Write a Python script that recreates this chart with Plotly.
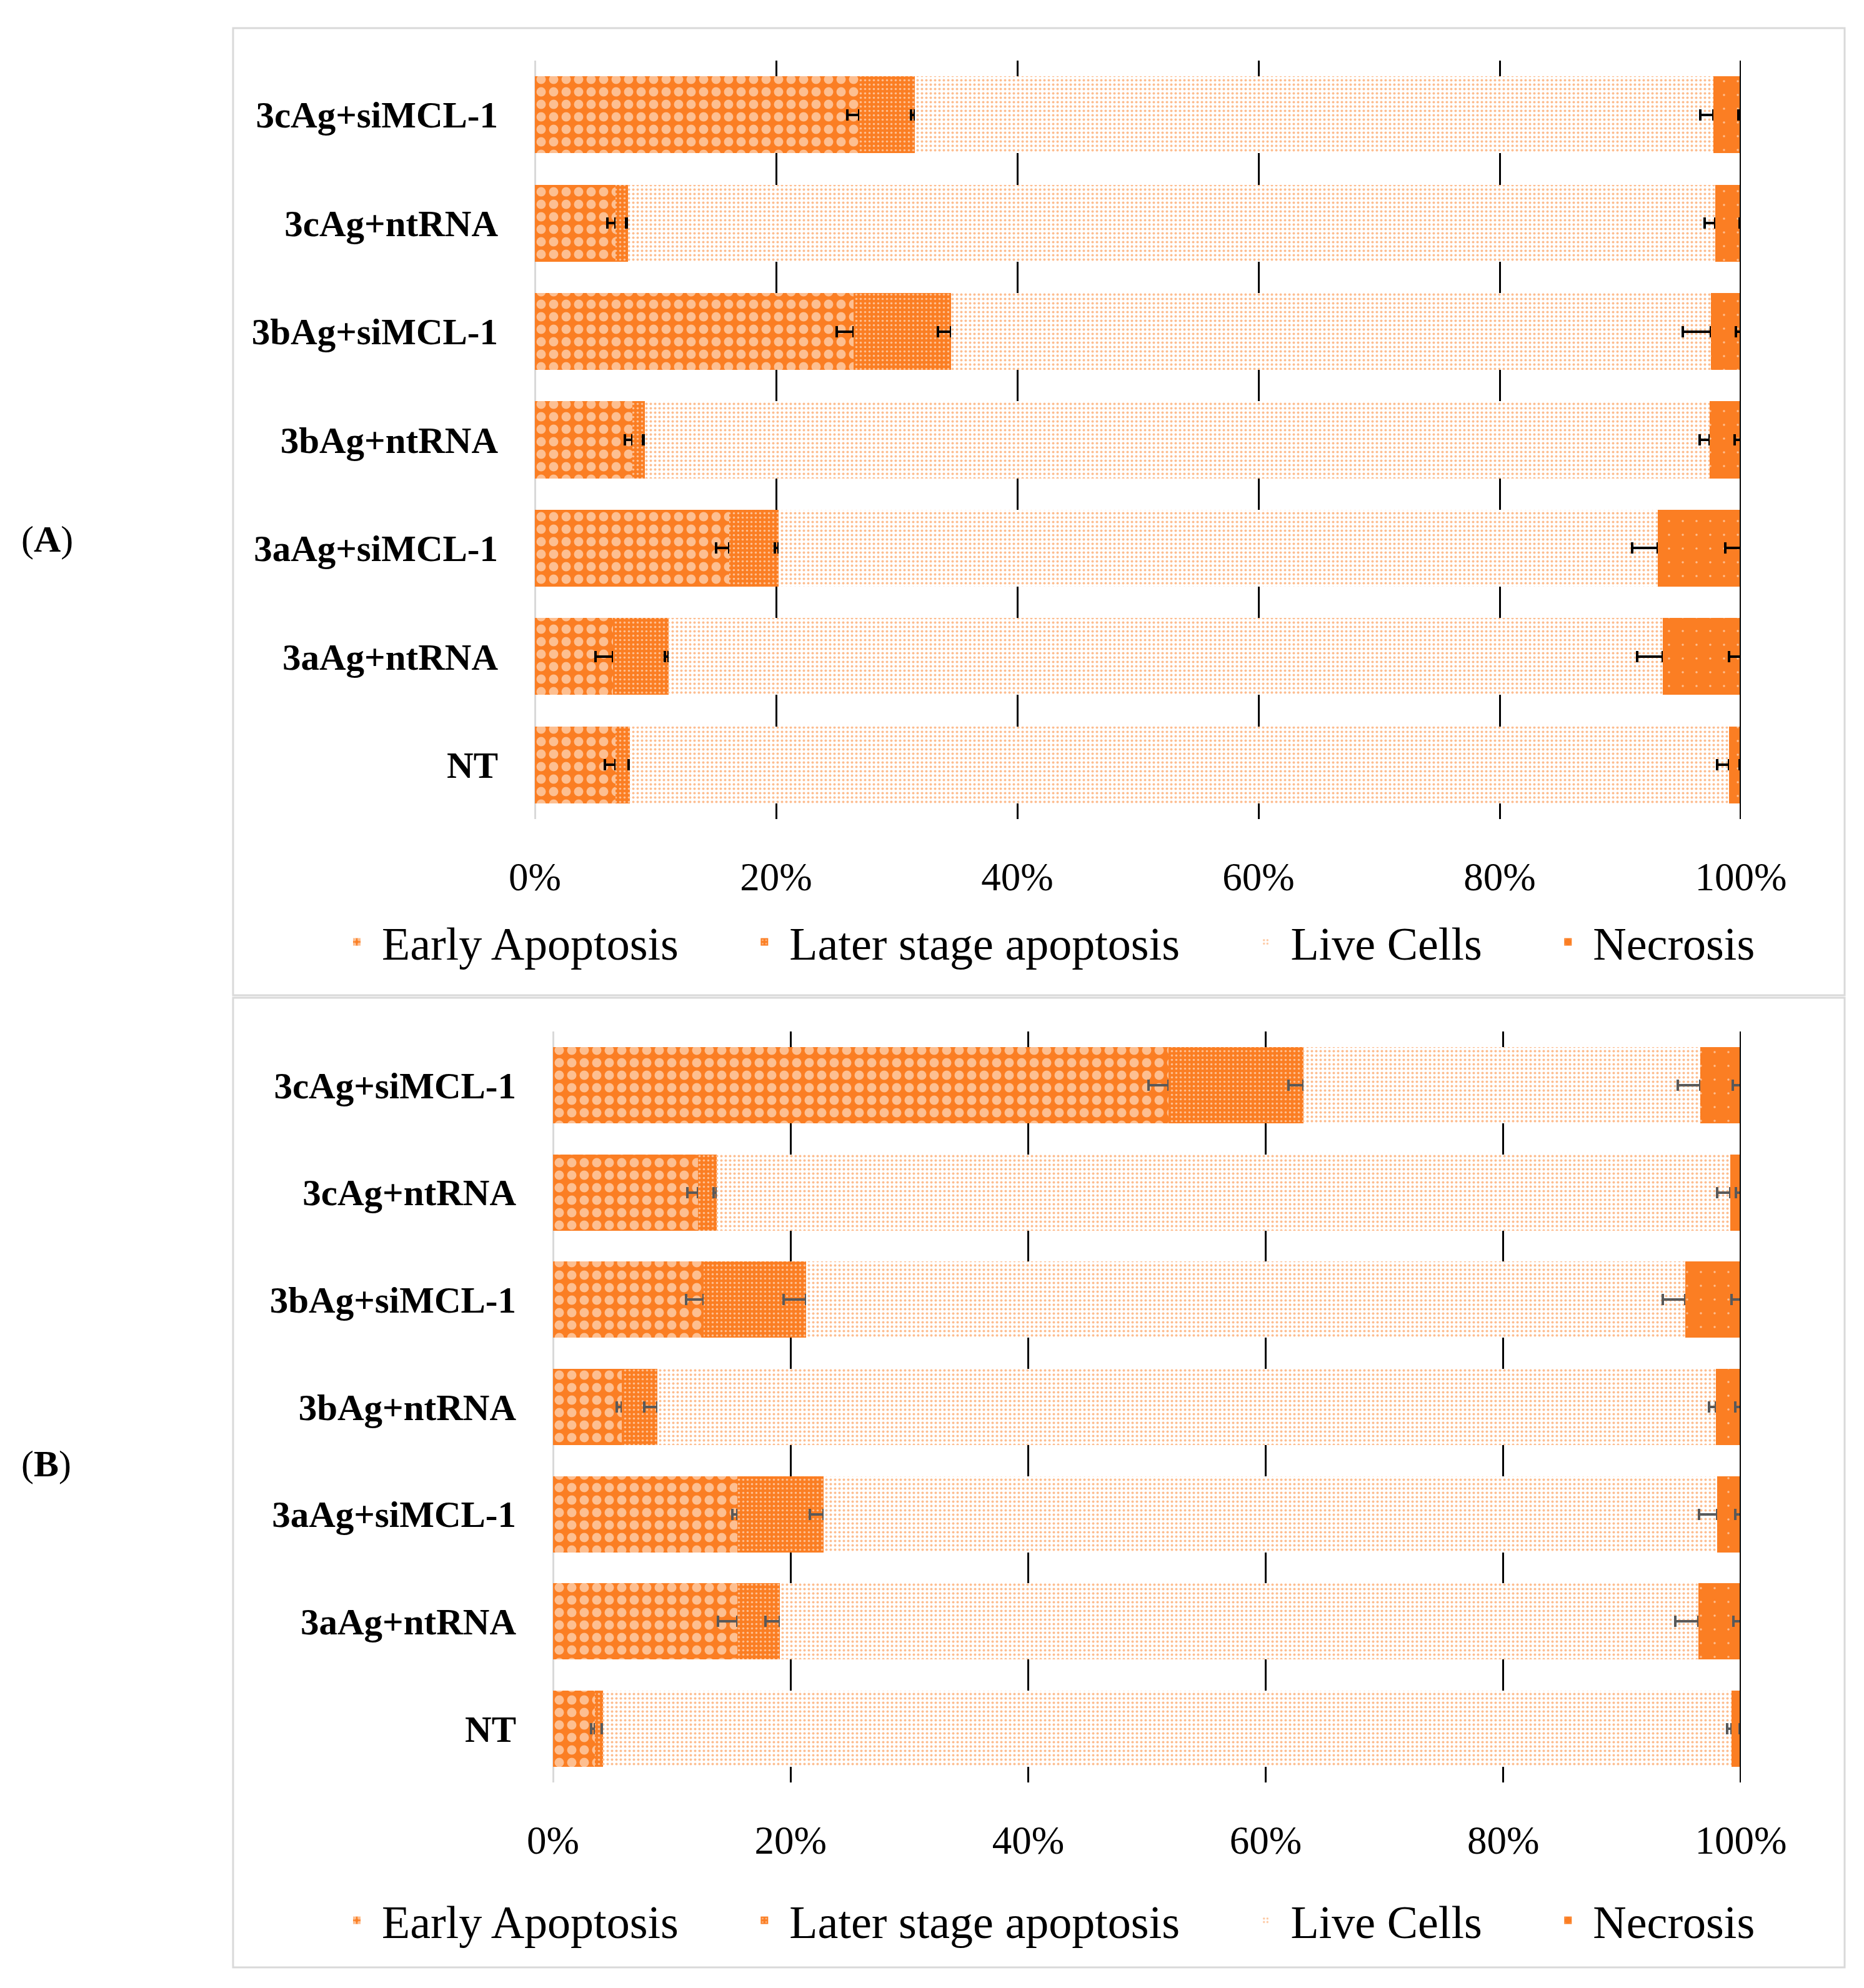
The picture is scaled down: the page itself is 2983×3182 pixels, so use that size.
import plotly.graph_objects as go

# ---------------- data ----------------
categories = ["NT", "3aAg+ntRNA", "3aAg+siMCL-1", "3bAg+ntRNA",
              "3bAg+siMCL-1", "3cAg+ntRNA", "3cAg+siMCL-1"]
series_names = ["Early Apoptosis", "Later stage apoptosis", "Live Cells", "Necrosis"]

# Panel A (percent)
early_a = [6.7, 6.5, 16.1, 8.1, 26.4, 6.7, 26.9]
late_a = [1.2, 4.6, 4.1, 1.0, 8.1, 1.0, 4.6]
live_a = [91.1, 82.4, 72.9, 88.3, 63.0, 90.2, 66.2]
necrosis_a = [1.0, 6.5, 6.9, 2.6, 2.5, 2.1, 2.3]
early_err_a = [0.9, 1.5, 1.1, 0.65, 1.4, 0.7, 1.0]
late_err_a = [0.15, 0.3, 0.3, 0.15, 1.1, 0.15, 0.3]
live_err_a = [0.95, 2.1, 2.1, 0.8, 2.3, 0.9, 1.05]
necrosis_err_a = [0.1, 1.0, 1.3, 0.5, 0.4, 0.1, 0.2]

# Panel B (percent)
early_b = [3.5, 15.5, 15.5, 5.8, 12.7, 12.2, 51.8]
late_b = [0.7, 3.6, 7.3, 3.0, 8.6, 1.6, 11.4]
live_b = [95.0, 77.3, 75.2, 89.1, 74.0, 85.3, 33.4]
necrosis_b = [0.8, 3.6, 2.0, 2.1, 4.7, 0.9, 3.4]
early_err_b = [0.3, 1.6, 0.4, 0.45, 1.5, 0.9, 1.65]
late_err_b = [0.1, 1.2, 1.2, 1.1, 1.9, 0.3, 1.3]
live_err_b = [0.35, 1.9, 1.5, 0.6, 1.9, 1.1, 1.9]
necrosis_err_b = [0.1, 0.65, 0.5, 0.5, 0.8, 0.4, 0.7]

tick_vals = [0, 20, 40, 60, 80, 100]
tick_text = ["0%", "20%", "40%", "60%", "80%", "100%"]
panel_labels = ["A", "B"]

# ---------------- style ----------------
W, H = 2983, 3182
ORANGE = "#FB7E23"
FONT = "Liberation Serif"

patterns = [
    dict(shape=".", fgcolor="white", bgcolor=ORANGE, size=20, solidity=0.44),   # early
    dict(shape=".", fgcolor="white", bgcolor=ORANGE, size=7, solidity=0.2),     # late
    dict(shape=".", fgcolor=ORANGE, bgcolor="white", size=7, solidity=0.26),    # live
    dict(shape=".", fgcolor="white", bgcolor=ORANGE, size=22, solidity=0.02),   # necrosis
]

fig = go.Figure()


def add_panel(vals, errs, xa, ya, legend_name, err_color):
    for i, (name, v, e) in enumerate(zip(series_names, vals, errs)):
        if i < 3:
            err = dict(type="data", symmetric=False, array=[0] * len(e), arrayminus=e,
                       color=err_color, thickness=4, width=9)
        else:
            err = dict(type="data", symmetric=True, array=e,
                       color=err_color, thickness=4, width=9)
        label = name + "\u00a0" * 5 if i < 3 else name
        fig.add_trace(go.Bar(
            y=categories, x=v, orientation="h", name=label,
            marker=dict(color=ORANGE, line=dict(width=0), pattern=patterns[i]),
            error_x=err, xaxis=xa, yaxis=ya, legend=legend_name,
            hoverinfo="x+y",
        ))


add_panel([early_a, late_a, live_a, necrosis_a],
          [early_err_a, late_err_a, live_err_a, necrosis_err_a],
          "x", "y", "legend", "black")
add_panel([early_b, late_b, live_b, necrosis_b],
          [early_err_b, late_err_b, live_err_b, necrosis_err_b],
          "x2", "y2", "legend2", "#595959")

xaxis_common = dict(range=[0, 100], tickvals=tick_vals, ticktext=tick_text,
                    showgrid=True, gridcolor="black", gridwidth=3,
                    zeroline=True, zerolinecolor="#D9D9D9", zerolinewidth=3,
                    showline=False, ticks="", fixedrange=True, automargin=False,
                    tickfont=dict(family=FONT, size=63, color="black"),
                    ticklabelstandoff=50)
yaxis_common = dict(categoryorder="array", categoryarray=categories, range=[-0.5, 6.5],
                    showgrid=False, zeroline=False, showline=False, ticks="", automargin=False,
                    tickfont=dict(family=FONT, size=59, color="black", weight="bold"),
                    ticklabelstandoff=58)

legend_common = dict(orientation="h", xanchor="left", yanchor="middle", traceorder="normal",
                     itemwidth=70,
                     font=dict(family=FONT, size=74, color="black"),
                     bgcolor="rgba(0,0,0,0)")

fig.update_layout(
    width=W, height=H, autosize=False,
    margin=dict(l=0, r=0, t=0, b=0, pad=0, autoexpand=False),
    paper_bgcolor="white", plot_bgcolor="white",
    barmode="stack", bargap=0.29,
    xaxis=dict(domain=[856 / W, 2786 / W], anchor="y", **xaxis_common),
    yaxis=dict(domain=[1 - 1311 / H, 1 - 97 / H], anchor="x", **yaxis_common),
    xaxis2=dict(domain=[885 / W, 2786 / W], anchor="y2", **xaxis_common),
    yaxis2=dict(domain=[1 - 2853 / H, 1 - 1651 / H], anchor="x2", **yaxis_common),
    legend=dict(x=531 / W, y=1 - 1508 / H, **legend_common),
    legend2=dict(x=531 / W, y=1 - 3074 / H, **legend_common),
    showlegend=True,
)

shapes = []
# panel borders
for (y0, y1) in [(45, 1593), (1597, 3149)]:
    shapes.append(dict(type="rect", xref="paper", yref="paper",
                       x0=373 / W, x1=2952 / W, y0=1 - y1 / H, y1=1 - y0 / H,
                       line=dict(color="#D9D9D9", width=3), fillcolor="rgba(0,0,0,0)",
                       layer="below"))
# 100% reference line drawn over the bars
for xr, yr in [("x", "y domain"), ("x2", "y2 domain")]:
    shapes.append(dict(type="line", xref=xr, yref=yr, x0=100, x1=100, y0=0, y1=1,
                       line=dict(color="black", width=4), layer="above"))
fig.update_layout(shapes=shapes)

for lab, yc in zip(panel_labels, [828, 2378]):
    fig.add_annotation(text="(<b>" + lab + "</b>)", xref="paper", yref="paper",
                       x=32 / W, y=1 - yc / H, xanchor="left", showarrow=False,
                       font=dict(family=FONT, size=60, color="black"))

fig.write_html("out.html")
